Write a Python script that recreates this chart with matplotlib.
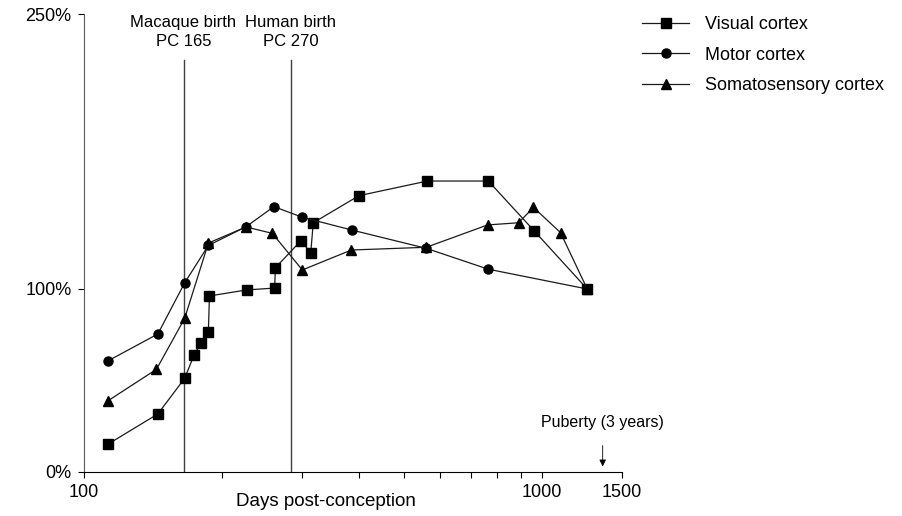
import numpy as np
import matplotlib
matplotlib.use('Agg')
import matplotlib.pyplot as plt

plt.rcParams['font.family'] = ['Liberation Sans', 'DejaVu Sans']

# days post-conception / % of adult value
visual_days = [113, 145, 166, 174, 180, 187, 188, 227, 261, 262, 298, 313, 317, 399, 563, 765, 964, 1258]
visual_pct = [15.3, 31.7, 51.2, 63.9, 70.3, 76.7, 96.2, 99.5, 100.5, 111.6, 126.4, 119.8, 136.2, 151, 159, 159, 131.7, 100]

motor_days = [113, 145, 166, 187, 226, 260, 300, 385, 560, 765, 1258]
motor_pct = [60.8, 75.4, 103.4, 123.8, 134, 145, 139.2, 132.2, 122.2, 110.8, 100]

somato_days = [113, 144, 166, 187, 226, 258, 300, 384, 560, 762, 891, 960, 1100, 1258]
somato_pct = [39, 56.1, 84, 125.1, 133.9, 130.4, 110.4, 121.3, 122.8, 135, 136.2, 144.6, 130.8, 100]

birth_days = [165, 283]
birth_labels = ['Macaque birth\nPC 165', 'Human birth\nPC 270']
puberty_day = 1360

fig = plt.figure(figsize=(9.03, 5.16), dpi=100)
ax = fig.add_axes([0.093, 0.0853, 0.596, 0.8866])

lc = '0.1'
ax.plot(visual_days, visual_pct, color=lc, lw=0.9, marker='s', ms=6.5,
        mfc='k', mec='k', label='Visual cortex')
ax.plot(motor_days, motor_pct, color=lc, lw=0.9, marker='o', ms=6.5,
        mfc='k', mec='k', label='Motor cortex')
ax.plot(somato_days, somato_pct, color=lc, lw=0.9, marker='^', ms=7,
        mfc='k', mec='k', label='Somatosensory cortex')

for d, lab in zip(birth_days, birth_labels):
    ax.plot([d, d], [0, 225], color='0.25', lw=1.0, zorder=1)
    ax.text(d, 231, lab, ha='center', va='bottom', fontsize=12, linespacing=1.35)

ax.annotate('', xy=(puberty_day, 1.5), xytext=(puberty_day, 16),
            arrowprops=dict(arrowstyle='-|>', color='k', lw=0.6,
                            mutation_scale=10))
ax.text(puberty_day, 23, 'Puberty (3 years)', ha='center', va='bottom', fontsize=11.5)

ax.set_xscale('log')
ax.set_xlim(100, 1500)
ax.set_ylim(0, 250)

ax.set_xticks([100, 1000, 1500])
ax.set_xticklabels(['100', '1000', '1500'], fontsize=13)
ax.set_xticks([200, 300, 400, 500, 600, 700, 800, 900], minor=True)
ax.xaxis.set_minor_formatter(matplotlib.ticker.NullFormatter())
ax.set_yticks([0, 100, 250])
ax.set_yticklabels(['0%', '100%', '250%'], fontsize=13)
ax.tick_params(axis='both', which='both', direction='out', length=4, width=0.8, pad=5)

ax.spines['top'].set_visible(False)
ax.spines['right'].set_visible(False)
ax.spines['left'].set_color('0.35')
ax.spines['left'].set_linewidth(0.8)
ax.spines['bottom'].set_linewidth(0.8)

ax.set_xlabel('Days post-conception', fontsize=13.5)
ax.xaxis.set_label_coords(0.45, -0.045)

ax.legend(loc='upper left', bbox_to_anchor=(0.693, 1.0), bbox_transform=fig.transFigure,
          frameon=False, fontsize=13, handlelength=2.6, labelspacing=0.75,
          handletextpad=0.9)

fig.savefig('out.png', dpi=100)
